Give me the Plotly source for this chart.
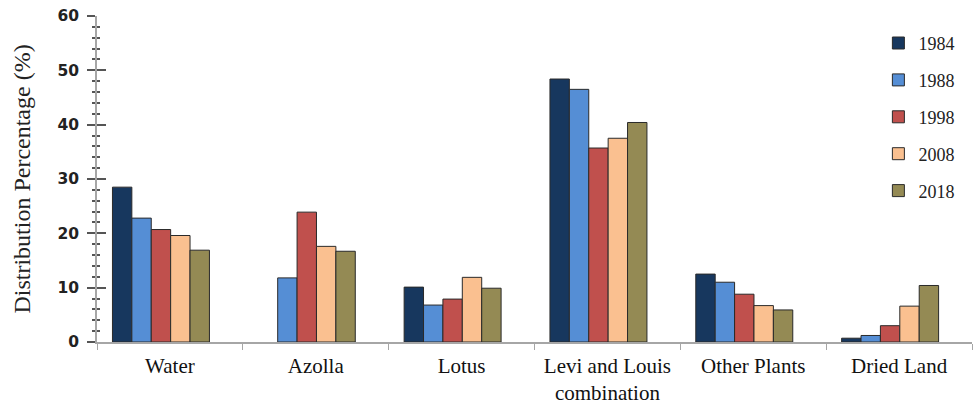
import plotly.graph_objects as go

categories = ["Water", "Azolla", "Lotus", "Levi and Louis<br>combination", "Other Plants", "Dried Land"]
years = ["1984", "1988", "1998", "2008", "2018"]
v1984 = [28.5, None, 10.1, 48.4, 12.5, 0.7]
v1988 = [22.8, 11.8, 6.8, 46.5, 11.0, 1.2]
v1998 = [20.7, 23.9, 7.9, 35.7, 8.8, 3.0]
v2008 = [19.6, 17.6, 11.9, 37.5, 6.7, 6.6]
v2018 = [16.9, 16.7, 9.9, 40.4, 5.9, 10.4]
series = [v1984, v1988, v1998, v2008, v2018]
colors = ["#17375e", "#558ed5", "#c0504d", "#fac090", "#948a54"]

bar_w = 0.133
start = -0.394

fig = go.Figure()
for i, (yr, vals, col) in enumerate(zip(years, series, colors)):
    fig.add_trace(go.Bar(
        x=categories, y=vals, name=yr,
        marker=dict(color=col, line=dict(color="#2a2a2a", width=1)),
        width=bar_w, offset=start + i * bar_w,
        legendgroup=yr,
    ))

# invisible helper trace so the overlaid axis (inner half of crossing ticks) is drawn
fig.add_trace(go.Scatter(x=[categories[0]], y=[0], yaxis="y2", mode="markers",
                         marker=dict(opacity=0), showlegend=False, hoverinfo="skip"))

fig.update_layout(
    width=977, height=404,
    margin=dict(l=97, r=5, t=16, b=62, autoexpand=False),
    plot_bgcolor="white", paper_bgcolor="white",
    barmode="group",
    showlegend=True,
    legend=dict(
        x=0.893, y=0.973, xanchor="left", yanchor="top",
        font=dict(family="Liberation Serif", size=18, color="#222"),
        tracegroupgap=10.5, bgcolor="rgba(0,0,0,0)",
        itemwidth=30,
    ),
    xaxis=dict(
        automargin=False,
        showline=True, linecolor="#a6a6a6", linewidth=1.5,
        ticks="outside", tickson="boundaries", ticklen=6, tickcolor="#a6a6a6",
        ticklabelstandoff=4,
        tickfont=dict(family="Liberation Serif", size=21, color="#111"),
        range=[-0.5, 5.5],
    ),
    yaxis=dict(
        automargin=False,
        range=[0, 60], dtick=10,
        showgrid=False, zeroline=False,
        showline=True, linecolor="#a6a6a6", linewidth=1.5,
        ticks="outside", ticklen=8, tickcolor="#555", tickwidth=1.5,
        ticklabelstandoff=5,
        tickfont=dict(family="DejaVu Sans", size=15.5, color="#222", weight="bold"),
        minor=dict(dtick=2, ticks="outside", ticklen=3, tickcolor="#555", showgrid=False),
        title=dict(text="Distribution Percentage (%)",
                   font=dict(family="Liberation Serif", size=24, color="#222"),
                   standoff=20),
    ),
    yaxis2=dict(
        overlaying="y", side="left", automargin=False,
        range=[0, 60], dtick=10,
        showgrid=False, zeroline=False, showline=False,
        showticklabels=False,
        ticks="inside", ticklen=9, tickcolor="#555", tickwidth=1.5,
        minor=dict(dtick=2, ticks="inside", ticklen=3, tickcolor="#555", showgrid=False),
    ),
)

fig.write_html("out.html", post_script="document.body.style.margin='0';",
               config={"displayModeBar": False})
